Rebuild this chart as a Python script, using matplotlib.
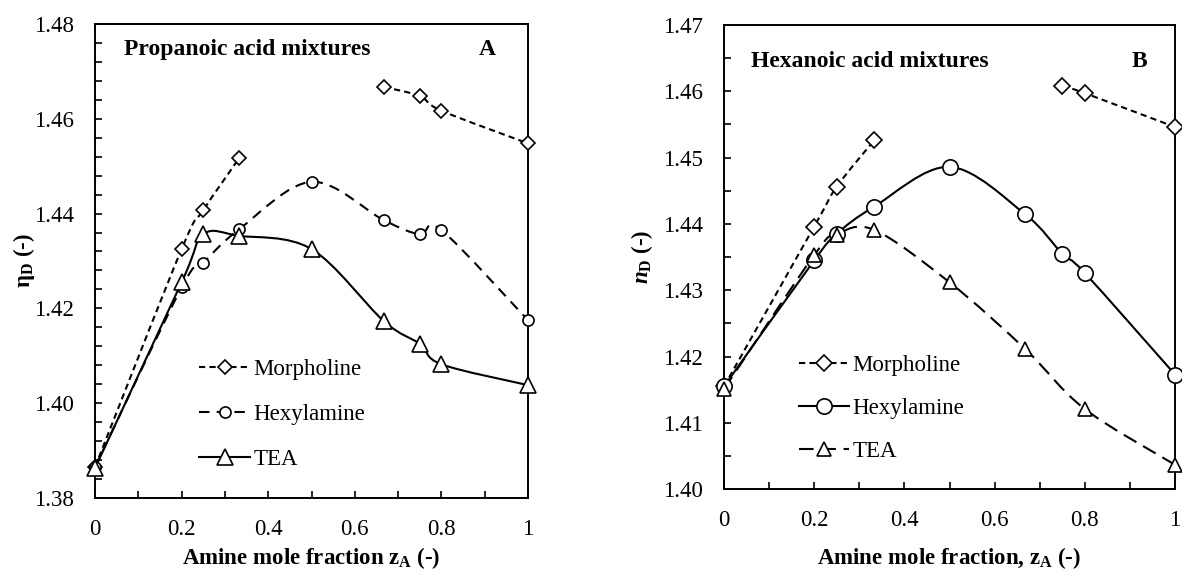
import numpy as np
import matplotlib
matplotlib.use("Agg")
import matplotlib.pyplot as plt
from matplotlib.path import Path
from matplotlib.patches import PathPatch
from matplotlib.ticker import MultipleLocator, FormatStrFormatter

plt.rcParams["font.family"] = ["Liberation Serif", "DejaVu Serif"]
plt.rcParams["mathtext.fontset"] = "custom"
plt.rcParams["mathtext.rm"] = "Liberation Serif:bold"
plt.rcParams["mathtext.bf"] = "Liberation Serif:bold"
plt.rcParams["mathtext.it"] = "Liberation Serif:italic:bold"

nan = np.nan

# Panel A: propanoic acid mixtures
prop_x = [0, 0.2, 0.25, 0.333, 0.5, 0.667, 0.75, 0.8, 1.0]
prop_morph_x = [0, 0.2, 0.25, 0.333, nan, 0.667, 0.75, 0.8, 1.0]
prop_morph_y = [1.3865, 1.4325, 1.4407, 1.4517, nan, 1.4667, 1.4648, 1.4617, 1.4548]
prop_hexyl_y = [1.3865, 1.4244, 1.4296, 1.4367, 1.4467, 1.4386, 1.4356, 1.4365, 1.4175]
prop_tea_y = [1.3863, 1.4255, 1.4356, 1.4353, 1.4325, 1.4173, 1.4125, 1.4082, 1.4038]

# Panel B: hexanoic acid mixtures
hex_morph_x = [0, 0.2, 0.25, 0.333, nan, 0.75, 0.8, 1.0]
hex_morph_y = [1.4155, 1.4396, 1.4456, 1.4526, nan, 1.4608, 1.4597, 1.4546]
hex_hexyl_x = [0, 0.2, 0.25, 0.333, 0.5, 0.667, 0.75, 0.8, 1.0]
hex_hexyl_y = [1.4155, 1.4345, 1.4385, 1.4426, 1.4486, 1.4415, 1.4355, 1.4326, 1.4173]
hex_tea_x = [0, 0.2, 0.25, 0.333, 0.5, 0.667, 0.8, 1.0]
hex_tea_y = [1.4151, 1.4353, 1.4384, 1.4391, 1.4312, 1.4212, 1.4121, 1.4037]

labels = ["Morpholine", "Hexylamine", "TEA"]
xtick_vals = [0, 0.2, 0.4, 0.6, 0.8, 1.0]
xtick_labels = ["0", "0.2", "0.4", "0.6", "0.8", "1"]

FS = 16.5


def smooth_path(x, y):
    # spreadsheet-style smoothed line: cubic bezier between points
    x = np.asarray(x, float)
    y = np.asarray(y, float)
    verts, codes = [], []
    ok = ~np.isnan(y)
    segs, cur = [], []
    for i in range(len(x)):
        if ok[i]:
            cur.append((x[i], y[i]))
        elif cur:
            segs.append(cur)
            cur = []
    if cur:
        segs.append(cur)
    for seg in segs:
        p = np.array(seg)
        n = len(p)
        verts.append(p[0])
        codes.append(Path.MOVETO)
        for i in range(n - 1):
            p0 = p[i - 1] if i > 0 else p[i]
            p1, p2 = p[i], p[i + 1]
            p3 = p[i + 2] if i + 2 < n else p[i + 1]
            verts += [p1 + (p2 - p0) / 6, p2 - (p3 - p1) / 6, p2]
            codes += [Path.CURVE4] * 3
    return Path(verts, codes)


def series(ax, x, y, ls, marker, ms, label, lw=1.5):
    ax.add_patch(PathPatch(smooth_path(x, y), fill=False, edgecolor="black",
                           lw=lw, linestyle=ls, zorder=2, clip_on=False))
    ax.plot(x, y, linestyle="none", marker=marker, ms=ms, mfc="white",
            mec="black", mew=1.2, zorder=3, clip_on=False)
    h, = ax.plot([], [], linestyle=ls, lw=lw, color="black", marker=marker,
                 ms=ms, mfc="white", mec="black", mew=1.2, label=label)
    return h


def style_axes(ax, ymin, ymax, ymajor, yminor):
    ax.set_xlim(0, 1)
    ax.set_ylim(ymin, ymax)
    ax.set_xticks(xtick_vals)
    ax.set_xticklabels(xtick_labels)
    ax.xaxis.set_minor_locator(MultipleLocator(0.1))
    ax.yaxis.set_major_locator(MultipleLocator(ymajor))
    ax.yaxis.set_minor_locator(MultipleLocator(yminor))
    ax.yaxis.set_major_formatter(FormatStrFormatter("%.2f"))
    ax.tick_params(which="both", direction="in", length=5, width=1.2,
                   labelsize=FS)
    ax.tick_params(axis="x", which="both", pad=15)
    ax.tick_params(axis="y", which="both", pad=15)
    for s in ax.spines.values():
        s.set_linewidth(1.4)


fig = plt.figure(figsize=(11.82, 5.71), dpi=100)
axA = fig.add_axes([0.0804, 0.128, 0.3663, 0.830])
axB = fig.add_axes([0.6125, 0.143, 0.3816, 0.8135])

# panel A
hA = [
    series(axA, prop_morph_x, prop_morph_y, (0, (3, 2)), "D", 7, labels[0]),
    series(axA, prop_x, prop_hexyl_y, (0, (5, 3.5)), "o", 8, labels[1]),
    series(axA, prop_x, prop_tea_y, "-", "^", 11, labels[2]),
]
style_axes(axA, 1.38, 1.48, 0.02, 0.004)
axA.set_xlabel("Amine mole fraction z$_\\mathrm{A}$ (-)", fontsize=FS,
               fontweight="bold", labelpad=4)
axA.set_ylabel("η$_\\mathrm{D}$ (-)", fontsize=FS, fontweight="bold",
               labelpad=-2)
axA.text(0.067, 0.946, "Propanoic acid mixtures", transform=axA.transAxes,
         fontsize=17, fontweight="bold", va="center", ha="left")
axA.text(0.906, 0.946, "A", transform=axA.transAxes, fontsize=17,
         fontweight="bold", va="center", ha="center")
axA.legend(handles=hA, loc="lower left", bbox_to_anchor=(0.22, 0.04),
           frameon=False, fontsize=FS, handlelength=2.2, handletextpad=0.15,
           labelspacing=1.05, numpoints=1, borderaxespad=0)

# panel B
hB = [
    series(axB, hex_morph_x, hex_morph_y, (0, (3, 2)), "D", 8, labels[0]),
    series(axB, hex_hexyl_x, hex_hexyl_y, "-", "o", 11, labels[1]),
    series(axB, hex_tea_x, hex_tea_y, (0, (7, 3.7)), "^", 10, labels[2]),
]
style_axes(axB, 1.40, 1.47, 0.01, 0.005)
axB.set_xlabel("Amine mole fraction, z$_\\mathrm{A}$ (-)", fontsize=FS,
               fontweight="bold", labelpad=10)
axB.set_ylabel("$\\mathit{n}_\\mathrm{D}$ (-)", fontsize=FS,
               fontweight="bold", labelpad=6)
axB.text(0.059, 0.92, "Hexanoic acid mixtures", transform=axB.transAxes,
         fontsize=17, fontweight="bold", va="center", ha="left")
axB.text(0.922, 0.92, "B", transform=axB.transAxes, fontsize=17,
         fontweight="bold", va="center", ha="center")
axB.legend(handles=hB, loc="lower left", bbox_to_anchor=(0.145, 0.04),
           frameon=False, fontsize=FS, handlelength=2.2, handletextpad=0.15,
           labelspacing=0.95, numpoints=1, borderaxespad=0)

fig.savefig("out.png", dpi=100)
